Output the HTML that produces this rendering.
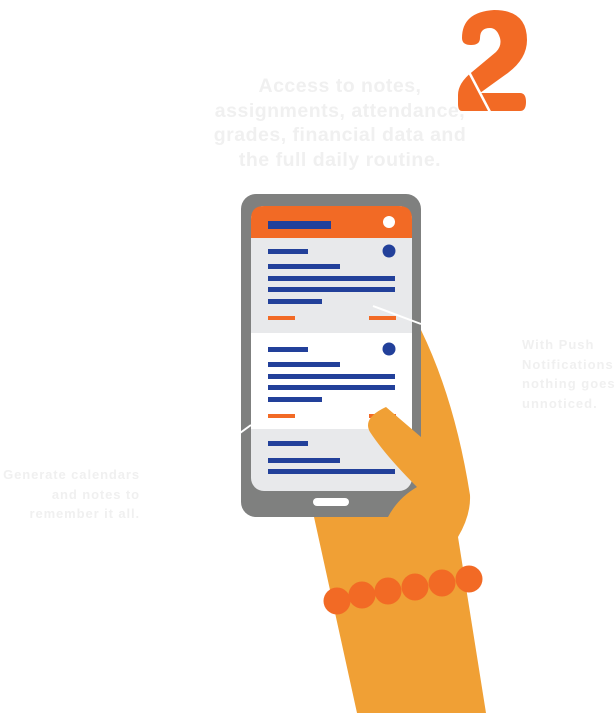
<!DOCTYPE html>
<html><head><meta charset="utf-8"><style>
html,body{margin:0;padding:0;background:#fff}
body{width:615px;height:713px;position:relative;overflow:hidden;font-family:"Liberation Sans",sans-serif}
.t{position:absolute;color:#f0f0f0;font-weight:bold}
</style></head><body>
<svg width="615" height="713" style="position:absolute;left:0;top:0">
<path d="M462,38 Q462,12 494,10 Q527,10 527,40 Q527,60 505,75 L480,93 L520,93 Q526,93 526,102 Q526,111 520,111 L462,111 Q458,111 458,104 L458,95 Q458,83 472,72 L496,52 Q502,46 500,38 Q497,28 490,28 Q480,28 480,38 Q480,45 471,45 Q462,45 462,38 Z" fill="#f26a25"/>
<line x1="469" y1="72" x2="490" y2="112" stroke="#fff" stroke-width="2.5"/>
<path d="M357,713 L314,517 L421,330 Q455,400 470,495 Q471,515 458,537 L486,713 Z" fill="#f0a035"/>
<rect x="241" y="194" width="180" height="323" rx="15" fill="#7f807f"/>
<rect x="251" y="206" width="161" height="285" rx="13" fill="#e8e9eb"/>
<path d="M251,238 L251,219 Q251,206 264,206 L399,206 Q412,206 412,219 L412,238 Z" fill="#f26a25"/>
<rect x="251" y="333" width="161" height="96" fill="#fff"/>
<rect x="313" y="498" width="36" height="8" rx="4" fill="#fff"/>
<rect x="268" y="221" width="63" height="8" fill="#22409a"/>
<circle cx="389" cy="222" r="6" fill="#fff"/>
<g fill="#22409a">
<rect x="268" y="249" width="40" height="5"/><circle cx="389" cy="251" r="6.5"/>
<rect x="268" y="264" width="72" height="5"/><rect x="268" y="276" width="127" height="5"/>
<rect x="268" y="287" width="127" height="5"/><rect x="268" y="299" width="54" height="5"/>
<rect x="268" y="347" width="40" height="5"/><circle cx="389" cy="349" r="6.5"/>
<rect x="268" y="362" width="72" height="5"/><rect x="268" y="374" width="127" height="5"/>
<rect x="268" y="385" width="127" height="5"/><rect x="268" y="397" width="54" height="5"/>
<rect x="268" y="441" width="40" height="5"/>
<rect x="268" y="458" width="72" height="5"/><rect x="268" y="469" width="127" height="5"/>
</g>
<g fill="#f26a25">
<rect x="268" y="316" width="27" height="4"/><rect x="369" y="316" width="27" height="4"/>
<rect x="268" y="414" width="27" height="4"/><rect x="369" y="414" width="27" height="4"/>
</g>
<path d="M386,407 L421,437 L421,517 L388,517 Q398,498 417,487 Q385,455 370,432 Q362,418 386,407 Z" fill="#f0a035"/>
<line x1="373" y1="306" x2="421" y2="324" stroke="#fff" stroke-width="2"/>
<line x1="240" y1="433" x2="251" y2="425" stroke="#fff" stroke-width="2"/>
<g fill="#f26a25">
<circle cx="337" cy="601" r="13.5"/><circle cx="362" cy="595" r="13.5"/>
<circle cx="388" cy="591" r="13.5"/><circle cx="415" cy="587" r="13.5"/>
<circle cx="442" cy="583" r="13.5"/><circle cx="469" cy="579" r="13.5"/>
</g>
</svg>
<div class="t" style="left:190px;top:74px;width:300px;text-align:center;font-size:19.5px;line-height:24.5px;letter-spacing:0.5px">Access to notes,<br>assignments, attendance,<br>grades, financial data and<br>the full daily routine.</div>
<div class="t" style="left:522px;top:335px;font-size:13px;line-height:19.5px;white-space:nowrap;letter-spacing:1px">With Push<br>Notifications<br>nothing goes<br>unnoticed.</div>
<div class="t" style="right:475px;top:465px;text-align:right;font-size:13px;line-height:19.5px;white-space:nowrap;letter-spacing:0.9px">Generate calendars<br>and notes to<br>remember it all.</div>
</body></html>
